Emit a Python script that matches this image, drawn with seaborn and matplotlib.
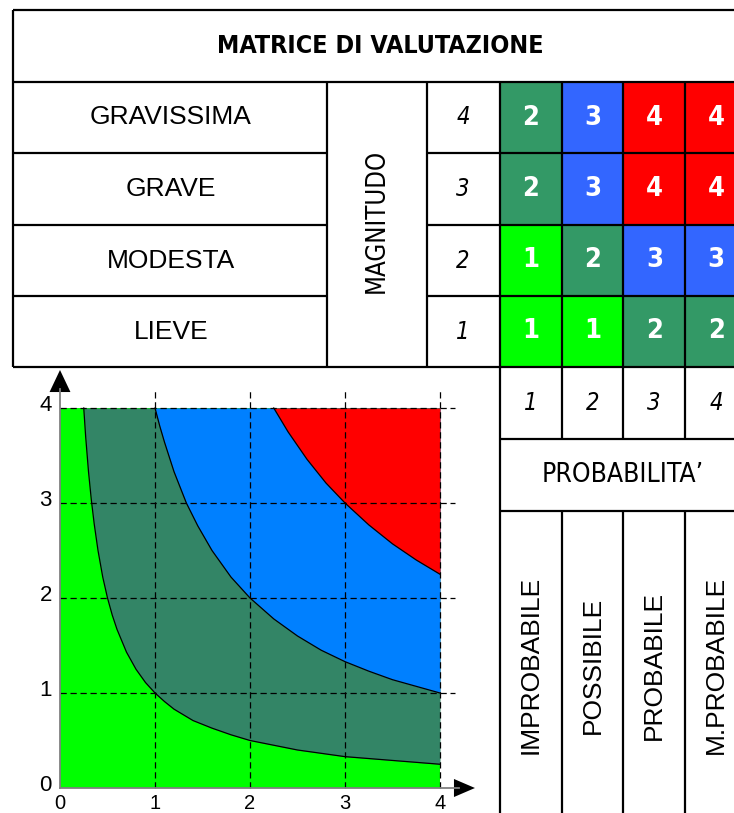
import matplotlib
matplotlib.use("Agg")
import matplotlib.pyplot as plt
import seaborn as sns
import pandas as pd
from matplotlib.colors import ListedColormap

# MATRICE DI VALUTAZIONE DEL RISCHIO (probabilita' x magnitudo)

titolo = 'MATRICE DI VALUTAZIONE'
magnitudo_labels = ['GRAVISSIMA', 'GRAVE', 'MODESTA', 'LIEVE']
magnitudo_valori = [4, 3, 2, 1]
probabilita_labels = ['IMPROBABILE', 'POSSIBILE', 'PROBABILE', 'M.PROBABILE']
probabilita_valori = [1, 2, 3, 4]

# classe di rischio per riga (magnitudo 4 -> 1) e colonna (probabilita' 1 -> 4)
matrice = [[2, 3, 4, 4],
           [2, 3, 4, 4],
           [1, 2, 3, 3],
           [1, 1, 2, 2]]

colori_matrice = ['#00FF00', '#339966', '#3366FF', '#FF0000']
colori_grafico = ['#00FF00', '#338566', '#0080FF', '#FF0000']

# curve di iso-rischio
curva1_x = [0.25, 0.27, 0.3, 0.33, 0.36, 0.4, 0.45, 0.5, 0.55, 0.6, 0.7, 0.8, 0.9, 1.0,
            1.1, 1.2, 1.4, 1.6, 1.8, 2.0, 2.5, 3.0, 3.5, 4.0]
curva1_y = [4.0, 3.7, 3.33, 3.03, 2.78, 2.5, 2.22, 2.0, 1.82, 1.67, 1.43, 1.25, 1.11, 1.0,
            0.91, 0.83, 0.71, 0.63, 0.56, 0.5, 0.4, 0.33, 0.29, 0.25]
curva2_x = [1.0, 1.05, 1.1, 1.2, 1.33, 1.45, 1.6, 1.8, 2.0, 2.25, 2.5, 2.75, 3.0,
            3.25, 3.5, 3.75, 4.0]
curva2_y = [4.0, 3.81, 3.64, 3.33, 3.0, 2.76, 2.5, 2.22, 2.0, 1.78, 1.6, 1.45, 1.33,
            1.23, 1.14, 1.07, 1.0]
curva3_x = [2.25, 2.4, 2.6, 2.8, 3.0, 3.25, 3.5, 3.75, 4.0]
curva3_y = [4.0, 3.75, 3.46, 3.21, 3.0, 2.77, 2.57, 2.4, 2.25]

assi_tick = [0, 1, 2, 3, 4]

W, H = 734, 813


def rect(x0, y0, x1, y1):
    # da pixel (origine in alto a sinistra) a coordinate figura
    return [x0 / W, 1 - y1 / H, (x1 - x0) / W, (y1 - y0) / H]


font_tahoma = dict(family='DejaVu Sans', fontstretch='condensed')
font_arial = dict(family='Liberation Sans')

fig = plt.figure(figsize=(W / 100, H / 100), dpi=100)

# ---------------- matrice (heatmap) ----------------
ax_m = fig.add_axes(rect(500, 82, 747, 367))
df_m = pd.DataFrame(matrice, index=magnitudo_valori, columns=probabilita_valori)
sns.heatmap(df_m, cmap=ListedColormap(colori_matrice), vmin=0.5, vmax=4.5,
            annot=True, cbar=False, ax=ax_m,
            annot_kws={'color': 'white', 'fontsize': 19.5, 'fontweight': 'bold',
                       'family': 'DejaVu Sans', 'fontstretch': 'condensed'})
ax_m.set_axis_off()

# ---------------- grafico curve ----------------
px0, py0, unit = 60, 788, 95
ax_p = fig.add_axes(rect(20, 365, 490, 813))
ax_p.set_xlim((20 - px0) / unit, (490 - px0) / unit)
ax_p.set_ylim((py0 - 813) / unit, (py0 - 365) / unit)
ax_p.set_axis_off()

ax_p.fill_between([0, 4], 0, 4, color=colori_grafico[0], lw=0)
ax_p.fill_between(curva1_x, curva1_y, 4, color=colori_grafico[1], lw=0)
ax_p.fill_between(curva2_x, curva2_y, 4, color=colori_grafico[2], lw=0)
ax_p.fill_between(curva3_x, curva3_y, 4, color=colori_grafico[3], lw=0)

for cx, cy in [(curva1_x, curva1_y), (curva2_x, curva2_y), (curva3_x, curva3_y)]:
    sns.lineplot(x=cx, y=cy, color='black', lw=0.9, ax=ax_p)

# griglia tratteggiata
ax_p.vlines(assi_tick[1:], 0, 4.19, colors='black', linestyles=(0, (5, 3)), lw=0.9)
ax_p.hlines(assi_tick[1:], 0, 4.16, colors='black', linestyles=(0, (5, 3)), lw=0.9)

# assi con frecce
ax_p.plot([0, 0], [0, 4.2], color='#808080', lw=1.3)
ax_p.plot([0, 4.2], [0, 0], color='#808080', lw=1.3)
ax_p.fill([-0.11, 0.11, 0], [4.168, 4.168, 4.4], color='black', lw=0)
ax_p.fill([4.147, 4.147, 4.368], [0.095, -0.095, 0], color='black', lw=0)

for t in assi_tick:
    ax_p.text(-0.085, t + 0.03, str(t), ha='right', va='center', fontsize=16, **font_arial)
    ax_p.text(t, -0.065, str(t), ha='center', va='top', fontsize=14.5, **font_arial)

# ---------------- tabella (linee e testi) ----------------
ax_t = fig.add_axes([0, 0, 1, 1])
ax_t.set_xlim(0, W)
ax_t.set_ylim(H, 0)
ax_t.set_axis_off()
ax_t.patch.set_alpha(0)

lw = 1.6
ax_t.hlines([10, 82, 367], 13, 747, colors='black', lw=lw)
ax_t.hlines([153, 225, 296], 13, 327, colors='black', lw=lw)
ax_t.hlines([153, 225, 296], 427, 747, colors='black', lw=lw)
ax_t.hlines([439, 511], 500, 747, colors='black', lw=lw)
ax_t.vlines(13, 10, 367, colors='black', lw=lw)
ax_t.vlines([327, 427], 82, 367, colors='black', lw=lw)
ax_t.vlines(500, 82, 813, colors='black', lw=lw)
ax_t.vlines([562, 623, 685], 82, 439, colors='black', lw=lw)
ax_t.vlines([562, 623, 685], 511, 813, colors='black', lw=lw)

ax_t.text(380, 46, titolo, ha='center', va='center', fontsize=18,
          fontweight='bold', **font_tahoma)

righe_y = [117.5, 189, 260.5, 331.5]
for lab, val, y in zip(magnitudo_labels, magnitudo_valori, righe_y):
    ax_t.text(171, y, lab, ha='center', va='center', fontsize=19, **font_arial)
    ax_t.text(463, y, str(val), ha='center', va='center', fontsize=17,
              style='italic', **font_tahoma)

ax_t.text(377, 221, 'MAGNITUDO', ha='center', va='center', rotation=90,
          fontsize=18.5, **font_tahoma)

colonne_x = [531, 592.5, 654, 716]
for lab, val, x in zip(probabilita_labels, probabilita_valori, colonne_x):
    ax_t.text(x, 403, str(val), ha='center', va='center', fontsize=17,
              style='italic', **font_tahoma)
    ax_t.text(x, 665, lab, ha='center', va='center', rotation=90,
              fontsize=19, **font_arial)

ax_t.text(623, 475, 'PROBABILITA\u2019', ha='center', va='center', fontsize=19,
          **font_tahoma)

plt.savefig('out.png', dpi=100)
